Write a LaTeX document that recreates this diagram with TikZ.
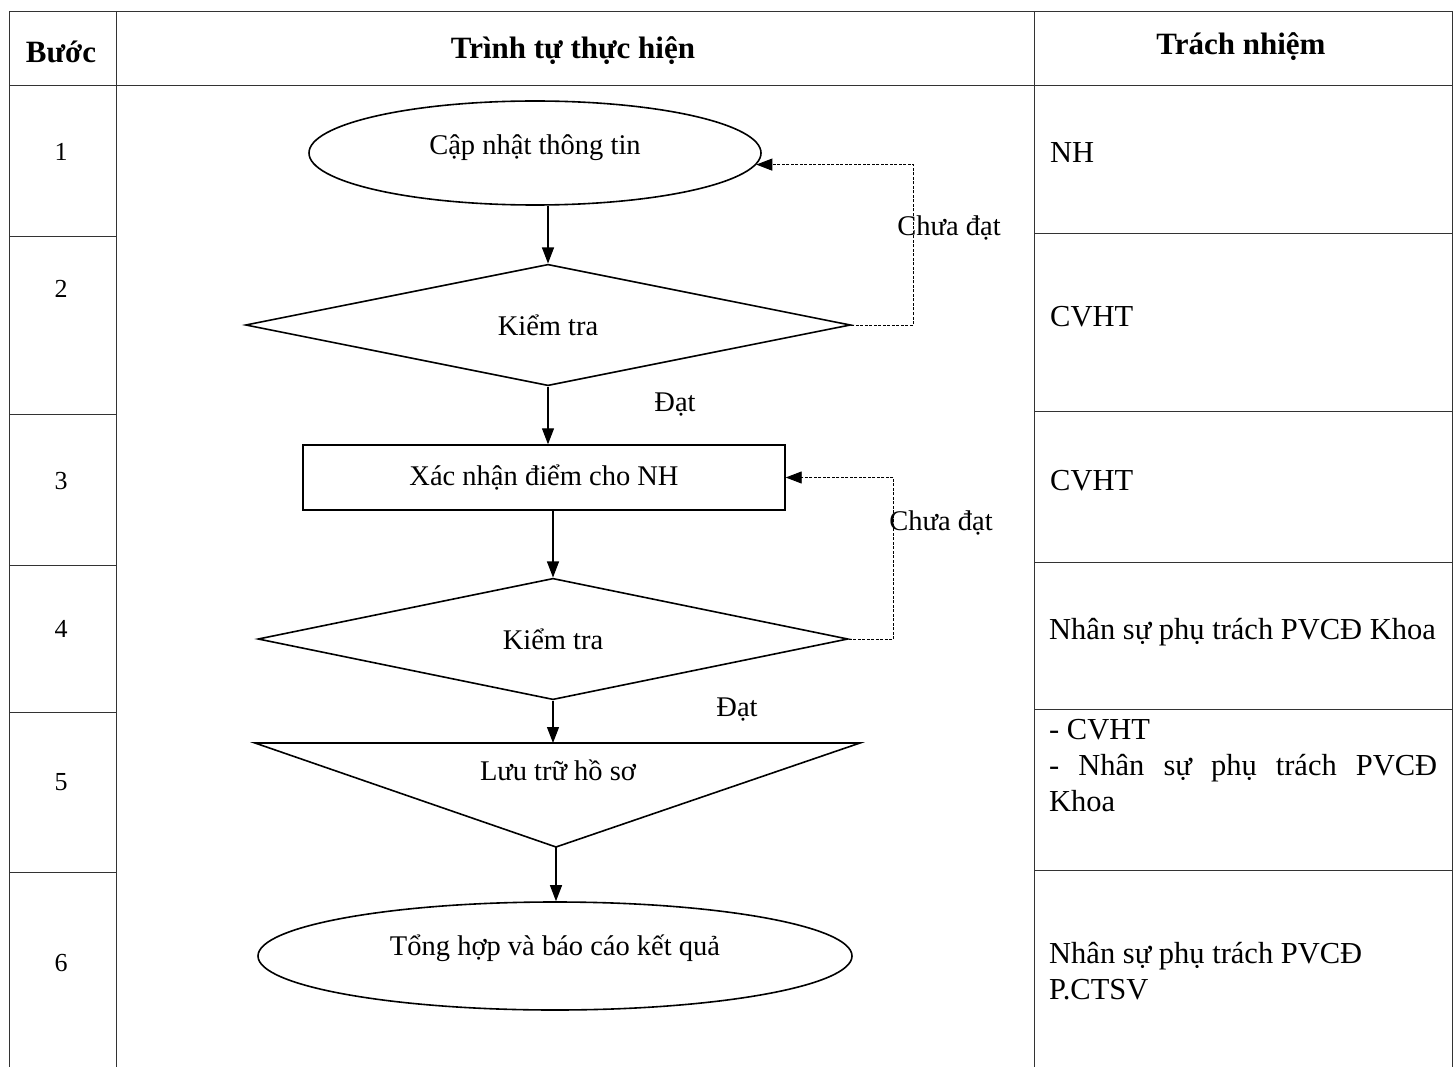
\documentclass[tikz,border=0pt]{standalone}
\usepackage{fontspec}
\setmainfont{Liberation Serif}
\usetikzlibrary{shapes.geometric,arrows.meta}
\begin{document}
\begin{tikzpicture}[x=1pt,y=-1pt,
 tbl/.style={line width=0.9pt, draw=black!80},
 fc/.style={draw, line width=1.6pt, font=\fontsize{28.5}{33}\selectfont, inner sep=0pt},
 arr/.style={line width=1.1pt, -{Triangle[length=16pt,width=12pt]}},
 back/.style={line width=0.9pt, dash pattern=on 3pt off 1.5pt, -{Triangle[length=16pt,width=12pt]}},
 lbl/.style={font=\fontsize{28.5}{33}\selectfont, inner sep=0pt},
 hd/.style={font=\fontsize{31}{36}\selectfont\bfseries, inner sep=0pt},
 num/.style={font=\fontsize{26}{30}\selectfont, inner sep=0pt},
 resp/.style={font=\fontsize{30.5}{36}\selectfont, inner sep=0pt, anchor=north west, align=left},
]
\useasboundingbox (0,0) rectangle (1456,1067);
% table
\draw[tbl] (9,11) -- (1452,11);
\draw[tbl] (9,11) -- (9,1067);
\draw[tbl] (116,11) -- (116,1067);
\draw[tbl] (1034,11) -- (1034,1067);
\draw[tbl] (1452,11) -- (1452,1067);
\draw[tbl] (9,85) -- (1452,85);
\foreach \y in {236,414,565,712,872} \draw[tbl] (9,\y) -- (116,\y);
\foreach \y in {233,411,562,709,870} \draw[tbl] (1034,\y) -- (1452,\y);
% headers
\node[hd] (h1) at (61,52) {Bước};
\node[hd] (h2) at (573,51) {Trình tự thực hiện};
\node[hd] (h3) at (1241,47) {Trách nhiệm};
% step numbers
\node[num] (n1) at (61,152) {1};
\node[num] (n2) at (61,289) {2};
\node[num] (n3) at (61,481) {3};
\node[num] (n4) at (61,629) {4};
\node[num] (n5) at (61,782) {5};
\node[num] (n6) at (61,963) {6};
% responsibilities
\node[resp, anchor=west] (r1) at (1050,153) {NH};
\node[resp, anchor=west] (r2) at (1050,317) {CVHT};
\node[resp, anchor=west] (r3) at (1050,481) {CVHT};
\node[resp, anchor=west] (r4) at (1049,632) {Nhân sự phụ trách PVCĐ Khoa};
\node[resp, text width=388pt, align=justify] (r5) at (1049,719) {- CVHT\\- Nhân sự phụ trách PVCĐ\linebreak Khoa};
\node[resp] (r6) at (1049,942) {Nhân sự phụ trách PVCĐ\\P.CTSV};
% flowchart
\node[fc, ellipse, minimum width=452, minimum height=104, text depth=16pt] (e1) at (535,153) {Cập nhật thông tin};
\node[fc, diamond, minimum width=605, minimum height=118] (d1) at (548,325) {Kiểm tra};
\node[fc, rectangle, line width=1.4pt, minimum width=482, minimum height=65] (r) at (544,477.5) {Xác nhận điểm cho NH};
\node[fc, diamond, minimum width=590, minimum height=114] (d2) at (553,639) {Kiểm tra};
\coordinate (tl) at (255,743);
\coordinate (tr) at (860,743);
\coordinate (tb) at (556,847);
\coordinate (tt) at (553,743);
\draw[line width=1.6pt] (tl) -- (tr) -- (tb) -- cycle;
\node[lbl] (tri) at (558,770) {Lưu trữ hồ sơ};
\node[fc, ellipse, minimum width=594, minimum height=108, text depth=22pt] (e2) at (555,956) {Tổng hợp và báo cáo kết quả};
% arrows
\draw[arr] (d1.north |- e1.south) -- (d1.north);
\draw[arr] (d1.south) -- (d1.south |- r.north);
\draw[arr] (r.south -| d2.north) -- (d2.north);
\draw[arr] (d2.south) -- (tt);
\draw[arr] (tb) -- (tb |- e2.north);
\draw[back] (d1.east) -- ++(62,0) |- (e1.-3.5);
\draw[back] (d2.east) -- ++(45,0) |- (r.east);
% labels
\node[lbl] (c1) at (949,228) {Chưa đạt};
\node[lbl] (ok1) at (675,405) {Đạt};
\node[lbl] (c2) at (941,523) {Chưa đạt};
\node[lbl] (ok2) at (737,710) {Đạt};
\end{tikzpicture}
\end{document}
